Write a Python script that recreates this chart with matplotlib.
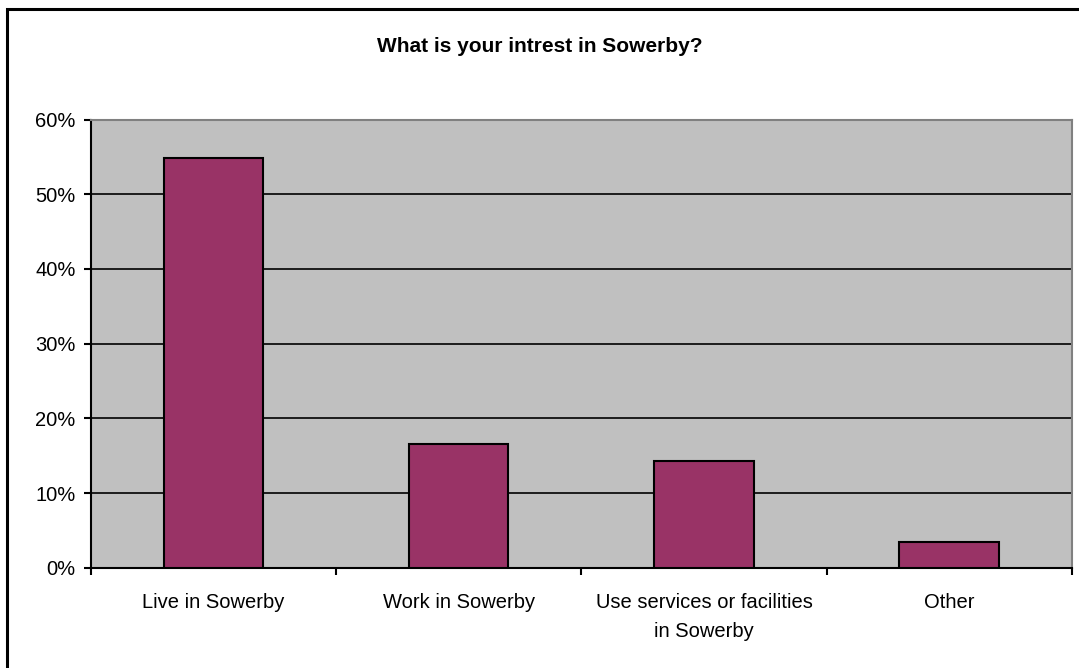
import matplotlib.pyplot as plt
from matplotlib.patches import Rectangle
from matplotlib.ticker import FixedLocator, PercentFormatter

plt.rcParams["font.family"] = ["Liberation Sans", "DejaVu Sans"]

TITLE = "What is your intrest in Sowerby?"
categories = ["Live in Sowerby", "Work in Sowerby",
              "Use services or facilities\nin Sowerby", "Other"]
shares = [54.8, 16.5, 14.3, 3.4]
y_ticks = [0, 10, 20, 30, 40, 50, 60]

fig = plt.figure(figsize=(10.79, 6.68), dpi=100)

# outer chart frame (only left/top edges fall inside the image)
fig.patches.append(Rectangle((7 / 1079, -0.1), 1.2, 1 - 9.5 / 668 + 0.1,
                             transform=fig.transFigure, fill=False,
                             edgecolor="black", linewidth=2.2))

ax = fig.add_axes([91 / 1079, 1 - 567.7 / 668, (1071.7 - 91) / 1079,
                   (567.7 - 119.5) / 668])
ax.set_facecolor("#c0c0c0")

x = range(len(categories))
ax.bar(x, shares, width=0.405, color="#993366", edgecolor="black",
       linewidth=1.5, zorder=3)

ax.set_xlim(-0.5, len(categories) - 0.5)
ax.set_ylim(0, 60)
ax.yaxis.set_major_locator(FixedLocator(y_ticks))
ax.yaxis.set_major_formatter(PercentFormatter(decimals=0))
ax.grid(axis="y", color="black", linewidth=1.2, zorder=1)

ax.set_xticks([i - 0.5 for i in range(len(categories) + 1)], minor=False)
ax.set_xticklabels([])
ax.set_xticks(list(x), minor=True)
ax.set_xticklabels(categories, minor=True, fontsize=14.5, linespacing=1.7)
ax.tick_params(axis="x", which="minor", length=0, pad=18)
ax.tick_params(axis="x", which="major", length=5, width=1.5, direction="out")
ax.tick_params(axis="y", length=5, width=1.5, direction="out",
               labelsize=14.5, pad=6)

for side in ("top", "right"):
    ax.spines[side].set_color("#808080")
    ax.spines[side].set_linewidth(1.5)
for side in ("left", "bottom"):
    ax.spines[side].set_color("black")
    ax.spines[side].set_linewidth(1.5)

fig.text(0.5005, 1 - 47 / 668, TITLE, ha="center", va="center",
         fontsize=15, fontweight="bold")

fig.savefig("out.png", dpi=100)
